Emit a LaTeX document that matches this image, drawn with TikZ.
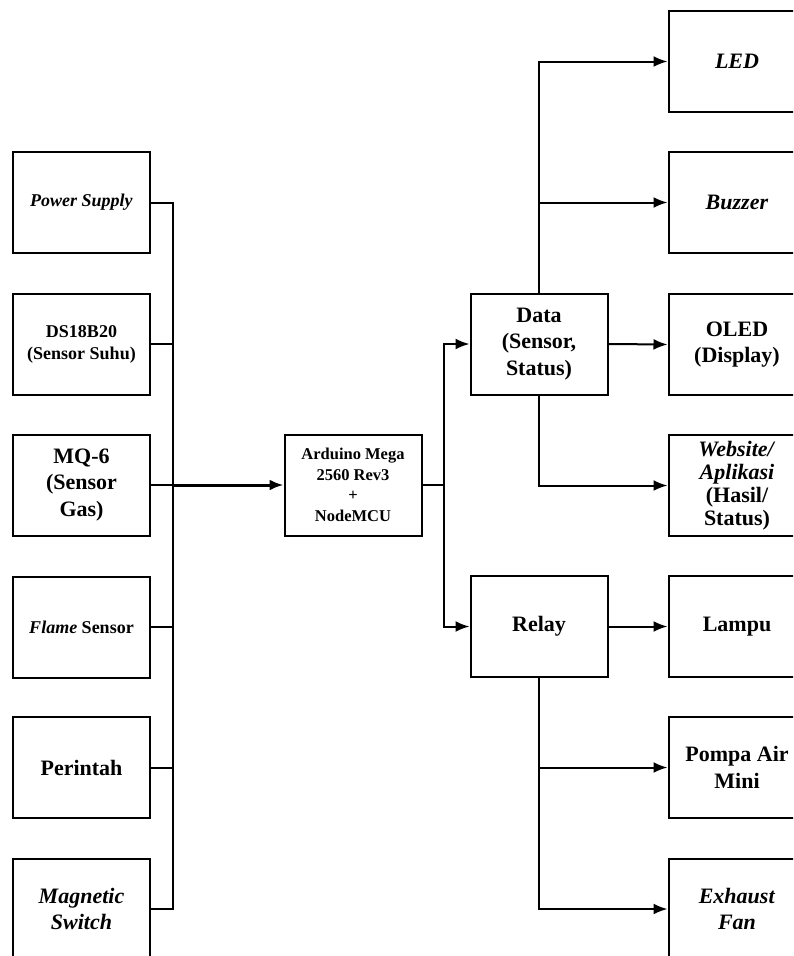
\documentclass[tikz,border=0pt]{standalone}
\usepackage{fontspec}
\setmainfont{Liberation Serif}
\usetikzlibrary{arrows.meta}
\tikzset{>={Latex[length=14pt,width=11pt]}}
\tikzset{
  blok/.style={draw, line width=2pt, minimum width=137, minimum height=101,
    inner sep=0pt, align=center, font=\bfseries\fontsize{22}{26.5}\selectfont},
  kecil/.style={font=\bfseries\fontsize{18}{22}\selectfont},
  garis/.style={line width=2pt}
}

\begin{document}
\begin{tikzpicture}[x=1pt,y=-1pt]
    \useasboundingbox (0,0) rectangle (793,956);
    \clip (0,0) rectangle (793,956);
    %input
    \node[blok,kecil] (ps) at (81.5,202.5) {\textit{Power Supply}};
    \node[blok,kecil] (ds) at (81.5,344) {DS18B20\\(Sensor Suhu)};
    \node[blok] (mq) at (81.5,485) {MQ-6\\(Sensor\\Gas)};
    \node[blok,kecil] (fl) at (81.5,627) {\textit{Flame} Sensor};
    \node[blok] (pr) at (81.5,767.5) {Perintah};
    \node[blok] (mag) at (81.5,909) {\textit{Magnetic}\\\textit{Switch}};
    %kontroler
    \node[blok,font=\bfseries\fontsize{16.5}{20.5}\selectfont] (ard) at (353,485)
      {Arduino Mega\\2560 Rev3\\+\\NodeMCU};
    \node[blok] (data) at (539,344) {Data\\(Sensor,\\Status)};
    \node[blok] (relay) at (539,626.5) {Relay};
    %output
    \node[blok] (led) at (737,61.5) {\textit{LED}};
    \node[blok] (buz) at (737,202.5) {\textit{Buzzer}};
    \node[blok] (oled) at (737,344.5) {OLED\\(Display)};
    \node[blok,font=\bfseries\fontsize{22}{23}\selectfont] (web) at (737,485.5)
      {\textit{Website/}\\\textit{Aplikasi}\\(Hasil/\\Status)};
    \node[blok] (lampu) at (737,626.5) {Lampu};
    \node[blok] (pompa) at (737,767.5) {Pompa Air\\Mini};
    \node[blok] (exh) at (737,909) {\textit{Exhaust}\\\textit{Fan}};
    %bus kiri
    \coordinate (bus) at (173,485);
    \draw[garis] (ps.east) -| (bus) |- (mag.east);
    \foreach \n in {ds,mq,fl,pr}
      \draw[garis] (\n.east) -- (\n.east -| bus);
    \draw[garis,line width=3pt,->] (bus) -- (ard.west);
    %bus kanan
    \coordinate (busk) at (444,485);
    \draw[garis] (ard.east) -- (busk);
    \draw[garis,->] (busk) |- (data.west);
    \draw[garis,->] (busk) |- (relay.west);
    %data
    \draw[garis,->] (data.north) |- (led.west);
    \draw[garis,->] (data.north |- buz.west) -- (buz.west);
    \draw[garis,->] (data.east) -- (oled.west);
    \draw[garis,->] (data.south) |- (web.west);
    %relay
    \draw[garis,->] (relay.east) -- (lampu.west);
    \draw[garis,->] (relay.south) |- (exh.west);
    \draw[garis,->] (relay.south |- pompa.west) -- (pompa.west);
\end{tikzpicture}
\end{document}
